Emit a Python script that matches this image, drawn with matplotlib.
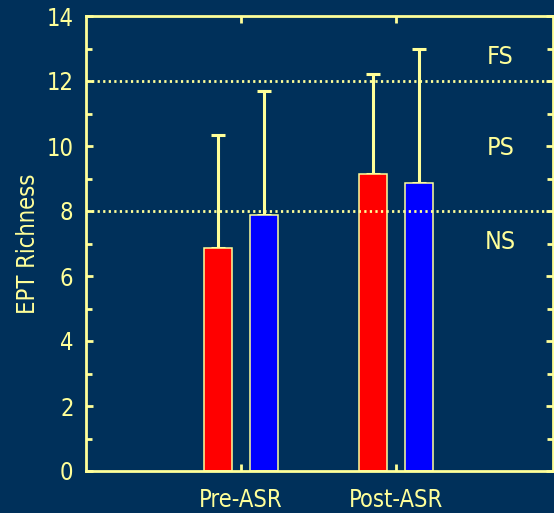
import numpy as np
import matplotlib.pyplot as plt

# EPT richness, mean and upper error
groups = ['Pre-ASR', 'Post-ASR']
red_mean = [6.85, 9.15]
red_err = [3.5, 3.07]
blue_mean = [7.88, 8.86]
blue_err = [3.8, 4.14]
thresholds = [8, 12]
zones = ['NS', 'PS', 'FS']
zone_y = [7.05, 9.95, 12.75]

bg = '#00305a'
fg = '#ffff99'

plt.rcParams['font.family'] = ['DejaVu Sans']
plt.rcParams['font.stretch'] = 'condensed'

fig = plt.figure(figsize=(5.54, 5.13), dpi=100, facecolor=bg)
ax = fig.add_axes([86/554, 42/513, 467/554, 455/513])
ax.set_facecolor(bg)

x = np.arange(len(groups))
w = 0.18
off = 0.148
ax.bar(x - off, red_mean, w, color='#ff0000', edgecolor=fg, linewidth=1.1, zorder=2)
ax.bar(x + off, blue_mean, w, color='#0000ff', edgecolor=fg, linewidth=1.1, zorder=2)
ax.errorbar(x - off, red_mean, yerr=[np.zeros(2), red_err], fmt='none',
            ecolor=fg, elinewidth=2.2, capsize=5, capthick=2.2, zorder=1)
ax.errorbar(x + off, blue_mean, yerr=[np.zeros(2), blue_err], fmt='none',
            ecolor=fg, elinewidth=2.2, capsize=5, capthick=2.2, zorder=1)

# stream condition thresholds
for t in thresholds:
    ax.axhline(t, color=fg, lw=2, ls=(0, (0.8, 1.2)), zorder=3)
for z, zy in zip(zones, zone_y):
    ax.text(1.67, zy, z, color=fg, fontsize=18, ha='center', va='center')

ax.set_xlim(-1, 2.01)
ax.set_ylim(0, 14)
ax.set_xticks(x)
ax.set_xticklabels(groups)
ax.set_yticks(np.arange(0, 15, 2))
ax.set_yticks(np.arange(1, 14, 2), minor=True)
ax.tick_params(axis='both', which='both', direction='in', color=fg, labelcolor=fg,
               labelsize=17, top=True, right=True, width=2)
ax.tick_params(axis='both', which='major', length=5)
ax.tick_params(axis='both', which='minor', length=4)
ax.tick_params(axis='x', pad=12)
ax.tick_params(axis='y', pad=9)
for s in ax.spines.values():
    s.set_color(fg)
    s.set_linewidth(2)
ax.set_ylabel('EPT Richness', color=fg, fontsize=17, labelpad=5)

plt.savefig('out.png', dpi=100, facecolor=bg)
